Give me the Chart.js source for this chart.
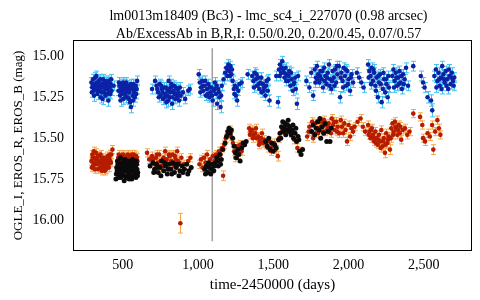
<!DOCTYPE html>
<html>
<head>
<meta charset="utf-8">
<script src="https://cdn.jsdelivr.net/npm/chart.js@4.4.1/dist/chart.umd.min.js"></script>
<style>
  html, body { margin: 0; padding: 0; background: #fff; }
  #wrap { width: 480px; height: 300px; }
</style>
</head>
<body>
<div id="wrap"><canvas id="myChart"></canvas></div>
<script>
// titles
var titleLines = ['lm0013m18409 (Bc3) - lmc_sc4_i_227070 (0.98 arcsec)',
                  'Ab/ExcessAb in B,R,I: 0.50/0.20, 0.20/0.45, 0.07/0.57'];
var xTitle = 'time-2450000 (days)';
var yTitle = 'OGLE_I, EROS_R, EROS_B (mag)';

// tick labels
var xTicks = [500, 1000, 1500, 2000, 2500];
var yTicks = [15.00, 15.25, 15.50, 15.75, 16.00];

// vertical marker (day, from mag, to mag)
var markerDay = 1095;
var markerMags = [14.95, 16.13];

// EROS_B : [day, mag, err]
var erosB = [
  [292,15.16,.03],[298,15.19,.03],[303,15.14,.03],[308,15.21,.03],[312,15.17,.025],[318,15.13,.03],[322,15.20,.03],
  [327,15.16,.03],[333,15.23,.035],[338,15.18,.03],[343,15.15,.03],[349,15.21,.03],[354,15.25,.035],[358,15.17,.03],
  [364,15.19,.03],[369,15.14,.03],[375,15.22,.03],[380,15.18,.03],[386,15.24,.035],[391,15.16,.03],[397,15.20,.03],
  [402,15.15,.03],[408,15.22,.03],[414,15.19,.03],[420,15.17,.03],[426,15.21,.03],[440,15.18,.03],
  [295,15.22,.03],[301,15.18,.03],[310,15.24,.035],[316,15.19,.03],[325,15.12,.03],[331,15.17,.03],[336,15.21,.03],
  [346,15.19,.03],[352,15.14,.03],[361,15.22,.03],[367,15.26,.035],[372,15.17,.03],[378,15.15,.03],[384,15.20,.03],
  [394,15.23,.03],[400,15.18,.03],[405,15.27,.035],[411,15.16,.03],[417,15.23,.03],[423,15.14,.03],
  [472,15.21,.03],[478,15.18,.03],[483,15.24,.03],[489,15.20,.03],[494,15.17,.03],[500,15.22,.03],[505,15.26,.035],
  [511,15.19,.03],[516,15.23,.03],[522,15.16,.03],[527,15.21,.03],[533,15.25,.035],[538,15.18,.03],[544,15.22,.03],
  [549,15.28,.035],[555,15.31,.035],[560,15.20,.03],[566,15.24,.03],[571,15.17,.03],[577,15.22,.03],[583,15.19,.03],
  [590,15.23,.03],[596,15.15,.03],
  [475,15.16,.03],[481,15.21,.03],[486,15.27,.035],[492,15.23,.03],[497,15.19,.03],[503,15.16,.03],[508,15.21,.03],
  [514,15.17,.03],[519,15.25,.035],[525,15.20,.03],[530,15.18,.03],[536,15.22,.03],[541,15.26,.035],[547,15.20,.03],
  [552,15.17,.03],[563,15.19,.03],[568,15.27,.035],[574,15.21,.03],[580,15.25,.03],[586,15.18,.03],[593,15.20,.03],
  [695,15.20,.03],[715,15.15,.03],[725,15.18,.03],[735,15.22,.03],[745,15.17,.03],[752,15.24,.03],[760,15.20,.03],
  [768,15.26,.035],[775,15.19,.03],[783,15.23,.03],[790,15.28,.035],[798,15.21,.03],[805,15.15,.03],[812,15.25,.03],
  [820,15.19,.03],[828,15.29,.035],[835,15.22,.03],[842,15.18,.03],[850,15.26,.03],[858,15.23,.03],[866,15.20,.03],
  [875,15.27,.035],[885,15.24,.03],[900,15.22,.03],[915,15.26,.03],[935,15.21,.03],[945,15.20,.03],
  [730,15.20,.03],[740,15.25,.03],[756,15.18,.03],[764,15.22,.03],[779,15.25,.03],[787,15.19,.03],[795,15.24,.03],
  [802,15.27,.035],[809,15.20,.03],[816,15.22,.03],[824,15.17,.03],[831,15.25,.03],[839,15.21,.03],[846,15.23,.03],
  [854,15.19,.03],[862,15.25,.03],[870,15.22,.03],[880,15.19,.03],
  [1005,15.11,.03],[1012,15.16,.03],[1020,15.19,.03],[1028,15.15,.03],[1036,15.21,.03],[1044,15.18,.03],[1052,15.24,.03],
  [1060,15.20,.03],[1068,15.17,.03],[1075,15.25,.03],[1083,15.22,.03],[1090,15.19,.03],[1098,15.27,.035],[1105,15.21,.03],
  [1112,15.16,.03],[1120,15.23,.03],[1127,15.29,.035],[1135,15.20,.03],[1142,15.25,.03],[1150,15.31,.035],[1158,15.18,.03],
  [1016,15.22,.03],[1032,15.18,.03],[1048,15.15,.03],[1064,15.23,.03],[1079,15.19,.03],[1094,15.24,.03],[1109,15.20,.03],
  [1124,15.18,.03],[1139,15.22,.03],[1154,15.24,.03],
  [1170,15.14,.03],[1180,15.10,.03],[1188,15.07,.03],[1195,15.12,.03],[1202,15.05,.03],[1208,15.09,.03],[1215,15.06,.03],
  [1222,15.11,.03],[1230,15.15,.03],[1238,15.20,.03],[1245,15.18,.03],[1252,15.24,.03],[1260,15.27,.035],[1268,15.21,.03],
  [1276,15.17,.03],[1290,15.16,.03],[1198,15.08,.03],[1212,15.12,.03],[1226,15.08,.03],[1242,15.23,.03],[1256,15.19,.03],
  [1330,15.11,.03],[1360,15.12,.03],[1368,15.15,.03],[1376,15.10,.03],[1384,15.14,.03],[1392,15.18,.03],[1400,15.13,.03],
  [1408,15.20,.03],[1416,15.16,.03],[1424,15.22,.03],[1432,15.17,.03],[1440,15.19,.03],[1448,15.24,.03],[1456,15.15,.03],
  [1464,15.21,.03],[1475,15.27,.035],
  [1372,15.19,.03],[1388,15.11,.03],[1404,15.17,.03],[1420,15.13,.03],[1436,15.21,.03],[1452,15.18,.03],[1468,15.14,.03],
  [1520,15.12,.03],[1531,15.28,.035],[1538,15.08,.03],[1545,15.05,.03],[1552,15.10,.03],[1560,15.03,.03],[1568,15.08,.03],
  [1575,15.13,.03],[1582,15.07,.03],[1590,15.11,.03],[1598,15.15,.03],[1606,15.09,.03],[1614,15.18,.03],[1622,15.14,.03],
  [1630,15.21,.03],[1640,15.16,.03],[1650,15.20,.03],[1657,15.29,.035],[1665,15.12,.03],
  [1542,15.12,.03],[1556,15.07,.03],[1572,15.10,.03],[1586,15.15,.03],[1602,15.12,.03],[1618,15.10,.03],[1634,15.17,.03],
  [1646,15.13,.03],
  [1720,15.15,.03],[1740,15.19,.03],[1752,15.10,.03],[1765,15.24,.03],[1775,15.08,.03],[1783,15.13,.03],[1790,15.06,.03],
  [1798,15.11,.03],[1806,15.16,.03],[1814,15.09,.03],[1822,15.14,.03],[1830,15.19,.03],[1838,15.07,.03],[1846,15.12,.03],
  [1854,15.17,.03],[1862,15.10,.03],[1870,15.05,.03],[1878,15.14,.03],[1886,15.20,.03],[1894,15.09,.03],[1902,15.13,.03],
  [1910,15.08,.03],[1918,15.16,.03],[1926,15.11,.03],
  [1780,15.16,.03],[1794,15.14,.03],[1810,15.12,.03],[1826,15.09,.03],[1842,15.15,.03],[1858,15.13,.03],[1874,15.18,.03],
  [1890,15.15,.03],[1906,15.18,.03],[1922,15.06,.03],
  [1935,15.06,.03],[1944,15.25,.035],[1952,15.10,.03],[1960,15.15,.03],[1968,15.07,.03],[1976,15.12,.03],[1984,15.18,.03],
  [1992,15.09,.03],[2000,15.14,.03],[2010,15.21,.03],[2020,15.11,.03],[2030,15.16,.03],
  [1948,15.13,.03],[1964,15.19,.03],[1980,15.08,.03],[1996,15.17,.03],[2015,15.13,.03],
  [2055,15.10,.03],[2070,15.13,.03],[2085,15.16,.03],[2100,15.19,.03],
  [2130,15.05,.03],[2138,15.09,.03],[2146,15.12,.03],[2154,15.07,.03],[2162,15.15,.03],[2170,15.10,.03],[2178,15.18,.03],
  [2186,15.13,.03],[2195,15.25,.035],[2202,15.16,.03],[2210,15.11,.03],[2220,15.28,.035],[2228,15.20,.03],[2236,15.14,.03],
  [2244,15.22,.03],[2252,15.17,.03],[2260,15.25,.035],[2268,15.19,.03],
  [2134,15.13,.03],[2150,15.17,.03],[2166,15.08,.03],[2182,15.21,.03],[2198,15.12,.03],[2214,15.17,.03],[2232,15.10,.03],
  [2248,15.14,.03],[2264,15.12,.03],
  [2290,15.12,.03],[2298,15.08,.03],[2306,15.15,.03],[2314,15.10,.03],[2322,15.18,.03],[2330,15.13,.03],[2338,15.09,.03],
  [2346,15.16,.03],[2354,15.20,.03],[2362,15.11,.03],[2372,15.14,.03],[2382,15.07,.03],[2395,15.18,.03],
  [2302,15.19,.03],[2318,15.13,.03],[2334,15.17,.03],[2350,15.12,.03],[2366,15.17,.03],
  [2430,15.06,.03],[2480,15.12,.03],[2495,15.16,.03],[2505,15.19,.03],[2525,15.25,.035],[2548,15.27,.035],[2556,15.33,.04],
  [2570,15.12,.03],[2580,15.08,.03],[2590,15.15,.03],[2598,15.10,.03],[2606,15.18,.03],[2614,15.13,.03],[2622,15.06,.03],
  [2630,15.11,.03],[2638,15.16,.03],[2646,15.09,.03],[2654,15.14,.03],[2662,15.20,.03],[2670,15.12,.03],[2678,15.17,.03],
  [2686,15.10,.03],[2694,15.15,.03],[2702,15.13,.03],
  [2584,15.19,.03],[2602,15.14,.03],[2618,15.20,.03],[2634,15.14,.03],[2650,15.18,.03],[2666,15.08,.03],[2682,15.13,.03],
  [2698,15.18,.03]
];

// EROS_R : [day, mag, err]
var erosR = [
  [292,15.64,.025],[298,15.60,.025],[303,15.67,.025],[308,15.58,.025],[313,15.62,.025],[318,15.66,.025],[323,15.59,.025],
  [328,15.63,.025],[334,15.69,.025],[339,15.65,.025],[344,15.61,.025],[350,15.68,.025],[355,15.64,.025],[360,15.70,.025],
  [366,15.66,.025],[371,15.62,.025],[377,15.67,.025],[382,15.63,.025],[388,15.69,.025],[393,15.65,.025],[399,15.61,.025],
  [405,15.66,.025],[411,15.62,.025],[418,15.64,.025],[425,15.60,.025],[432,15.57,.025],
  [295,15.68,.025],[301,15.62,.025],[306,15.65,.025],[316,15.69,.025],[321,15.63,.025],[331,15.66,.025],[336,15.61,.025],
  [347,15.64,.025],[353,15.60,.025],[358,15.66,.025],[363,15.63,.025],[369,15.68,.025],[374,15.64,.025],[380,15.70,.025],
  [385,15.66,.025],[396,15.68,.025],[402,15.64,.025],[408,15.68,.025],[414,15.60,.025],[422,15.65,.025],
  [470,15.62,.025],[478,15.65,.025],[486,15.61,.025],[494,15.64,.025],[502,15.60,.025],[510,15.63,.025],[518,15.66,.025],
  [526,15.62,.025],[534,15.60,.025],[542,15.64,.025],[550,15.61,.025],[558,15.65,.025],[566,15.62,.025],[574,15.60,.025],
  [582,15.63,.025],[590,15.61,.025],[598,15.64,.025],
  [474,15.60,.025],[482,15.63,.025],[498,15.62,.025],[514,15.61,.025],[530,15.64,.025],[546,15.62,.025],[562,15.60,.025],
  [578,15.65,.025],[594,15.62,.025],
  [662,15.59,.025],[676,15.63,.025],[695,15.61,.025],[710,15.66,.025],[722,15.62,.025],[732,15.65,.025],[742,15.60,.025],
  [752,15.64,.025],[762,15.67,.025],[772,15.62,.025],[782,15.58,.025],[792,15.63,.025],[802,15.66,.025],[812,15.61,.025],
  [822,15.64,.025],[832,15.60,.025],[842,15.67,.025],[852,15.63,.025],[862,15.58,.025],[875,15.65,.025],[883,16.02,.06],
  [890,15.62,.025],[905,15.66,.025],[935,15.64,.025],[950,15.62,.025],
  [702,15.63,.025],[727,15.60,.025],[747,15.67,.025],[767,15.63,.025],[787,15.65,.025],[807,15.60,.025],[827,15.66,.025],
  [847,15.61,.025],[867,15.64,.025],
  [1010,15.66,.025],[1020,15.63,.025],[1030,15.68,.025],[1040,15.62,.025],[1050,15.65,.025],[1060,15.60,.025],[1070,15.67,.025],
  [1080,15.63,.025],[1090,15.69,.025],[1100,15.61,.025],
  [1110,15.64,.025],[1120,15.60,.025],[1130,15.62,.025],[1140,15.58,.025],[1150,15.60,.025],[1160,15.56,.025],[1167,15.73,.03],
  [1175,15.54,.025],[1185,15.50,.025],[1195,15.48,.025],[1205,15.46,.025],[1213,15.45,.025],[1220,15.49,.025],
  [1232,15.53,.025],[1240,15.58,.025],[1248,15.62,.025],[1256,15.55,.025],[1264,15.60,.025],[1272,15.57,.025],[1280,15.54,.025],
  [1290,15.58,.025],
  [1340,15.44,.025],[1350,15.46,.025],[1360,15.45,.025],[1370,15.48,.025],[1380,15.47,.025],[1390,15.50,.025],[1400,15.49,.025],
  [1410,15.52,.025],[1420,15.50,.025],[1430,15.53,.025],[1440,15.51,.025],
  [1345,15.48,.025],[1365,15.50,.025],[1385,15.44,.025],[1405,15.54,.025],[1425,15.47,.025],
  [1455,15.54,.025],[1465,15.56,.025],[1475,15.52,.025],[1485,15.58,.025],[1495,15.55,.025],[1505,15.53,.025],[1515,15.57,.025],
  [1530,15.61,.03],[1540,15.50,.025],
  [1560,15.45,.025],[1580,15.42,.025],[1600,15.44,.025],[1620,15.47,.025],[1640,15.51,.025],[1660,15.56,.025],[1680,15.58,.025],
  [1725,15.49,.025],[1740,15.43,.025],[1752,15.46,.025],[1765,15.50,.025],[1778,15.41,.025],[1788,15.44,.025],[1798,15.47,.025],
  [1808,15.40,.025],[1818,15.43,.025],[1828,15.46,.025],[1838,15.39,.025],[1848,15.42,.025],[1858,15.45,.025],[1868,15.41,.025],
  [1878,15.44,.025],[1888,15.38,.025],[1898,15.42,.025],[1908,15.45,.025],[1918,15.40,.025],[1928,15.43,.025],[1938,15.47,.025],
  [1735,15.46,.025],[1758,15.40,.025],[1783,15.47,.025],[1803,15.44,.025],[1823,15.40,.025],[1843,15.46,.025],[1863,15.43,.025],
  [1883,15.47,.025],[1903,15.40,.025],[1923,15.46,.025],
  [1948,15.39,.025],[1956,15.43,.025],[1964,15.47,.025],[1972,15.41,.025],[1980,15.45,.025],[1990,15.52,.025],[2000,15.42,.025],
  [2010,15.49,.025],[2020,15.44,.025],[2030,15.46,.025],[2040,15.43,.025],
  [2060,15.40,.025],[2080,15.38,.025],[2095,15.43,.025],[2110,15.46,.025],
  [2130,15.42,.025],[2138,15.46,.025],[2146,15.50,.025],[2154,15.44,.025],[2162,15.48,.025],[2170,15.52,.025],[2178,15.46,.025],
  [2186,15.50,.025],[2194,15.54,.025],[2202,15.48,.025],[2210,15.52,.025],[2218,15.45,.025],[2226,15.55,.025],[2234,15.50,.025],
  [2242,15.59,.03],[2250,15.47,.025],[2258,15.53,.025],[2266,15.49,.025],[2275,15.57,.03],[2284,15.44,.025],[2292,15.41,.025],
  [2300,15.46,.025],[2308,15.40,.025],[2316,15.44,.025],[2324,15.48,.025],[2332,15.42,.025],[2340,15.47,.025],[2350,15.51,.025],
  [2360,15.45,.025],[2375,15.44,.025],[2390,15.48,.025],[2405,15.46,.025],
  [2134,15.48,.025],[2150,15.45,.025],[2166,15.50,.025],[2182,15.53,.025],[2198,15.51,.025],[2214,15.56,.025],[2230,15.52,.025],
  [2246,15.54,.025],[2262,15.51,.025],[2280,15.50,.025],[2296,15.48,.025],[2312,15.43,.025],[2328,15.45,.025],[2344,15.43,.025],
  [2430,15.35,.025],[2475,15.37,.025],[2490,15.42,.025],[2495,15.50,.025],[2508,15.52,.025],[2525,15.47,.025],[2540,15.49,.025],
  [2555,15.42,.025],[2563,15.57,.03],[2575,15.46,.025],[2590,15.39,.025],[2600,15.44,.025],[2610,15.48,.025]
];

// OGLE_I : [day, mag]
var ogleI = [
  [455,15.75],[460,15.68],[465,15.64],[470,15.71],[475,15.66],[480,15.73],[485,15.62],[490,15.69],[495,15.65],[500,15.72],
  [505,15.67],[510,15.76],[515,15.63],[520,15.70],[525,15.66],[530,15.73],[535,15.64],[540,15.69],[545,15.71],[550,15.65],
  [555,15.68],[560,15.75],[565,15.63],[570,15.70],[575,15.66],[580,15.72],[585,15.67],[590,15.64],[595,15.69],[600,15.71],
  [458,15.72],[463,15.70],[468,15.66],[473,15.74],[478,15.69],[483,15.67],[488,15.74],[493,15.71],[498,15.68],[503,15.64],
  [508,15.70],[513,15.73],[518,15.67],[523,15.74],[528,15.69],[533,15.66],[538,15.72],[543,15.75],[548,15.68],[553,15.73],
  [558,15.66],[563,15.70],[568,15.73],[573,15.68],[578,15.65],[583,15.70],[588,15.74],[593,15.66],[598,15.73],
  [682,15.67],[700,15.65],[712,15.69],[724,15.66],[736,15.71],[748,15.68],[760,15.64],[772,15.70],[784,15.67],[796,15.72],
  [808,15.66],[820,15.69],[832,15.65],[844,15.71],[856,15.68],[868,15.66],[880,15.70],[895,15.67],[910,15.69],[925,15.66],
  [940,15.70],[955,15.68],
  [706,15.71],[730,15.68],[754,15.73],[778,15.65],[802,15.69],[826,15.72],[850,15.66],[874,15.73],[900,15.71],[932,15.72],
  [1045,15.69],[1055,15.67],[1065,15.71],[1075,15.68],[1085,15.72],[1095,15.66],[1105,15.70],[1115,15.65],[1125,15.62],
  [1135,15.67],[1145,15.60],[1155,15.63],[1165,15.57],
  [1050,15.72],[1070,15.65],[1090,15.69],[1110,15.67],[1130,15.64],[1150,15.66],
  [1180,15.53],[1190,15.49],[1198,15.46],[1206,15.44],[1214,15.47],[1222,15.45],[1230,15.50],
  [1240,15.55],[1248,15.59],[1256,15.62],[1264,15.57],[1272,15.60],[1280,15.64],[1290,15.56],[1300,15.53],[1310,15.54],[1320,15.52],
  [1450,15.52],[1460,15.55],[1470,15.50],[1480,15.57],[1490,15.53],[1500,15.58],[1510,15.54],[1520,15.56],[1535,15.51],
  [1545,15.47],[1555,15.43],[1563,15.40],[1571,15.44],[1579,15.41],[1587,15.45],[1595,15.42],[1603,15.46],[1611,15.43],
  [1619,15.48],[1627,15.45],[1635,15.50],[1645,15.47],[1655,15.52],[1665,15.49],[1675,15.58],[1685,15.60],[1695,15.57],
  [1550,15.50],[1567,15.46],[1583,15.48],[1599,15.39],[1615,15.45],[1631,15.42],[1650,15.44],[1670,15.51],
  [1755,15.46],[1765,15.42],[1775,15.48],[1785,15.44],[1795,15.40],[1805,15.45],[1810,15.38],[1815,15.50],[1825,15.43],
  [1835,15.47],[1845,15.41],[1855,15.52],[1865,15.46],[1877,15.52],[1885,15.44]
];

function toPts(arr) {
  return arr.map(function (p) { return { x: p[0], y: p[1], err: p[2] || 0 }; });
}

var serif = 'Liberation Serif';

// error bars drawn under each dataset's points
var errorBars = {
  id: 'errorBars',
  beforeDatasetDraw: function (chart, args) {
    var ds = chart.data.datasets[args.index];
    if (!ds.errColor) return;
    var ctx = chart.ctx, xs = chart.scales.x, ys = chart.scales.y;
    ctx.save();
    ctx.strokeStyle = ds.errColor;
    ctx.lineWidth = 1;
    ds.data.forEach(function (p) {
      if (!p.err) return;
      var px = Math.round(xs.getPixelForValue(p.x)) + 0.5;
      var y1 = ys.getPixelForValue(p.y - p.err);
      var y2 = ys.getPixelForValue(p.y + p.err);
      ctx.beginPath();
      ctx.moveTo(px, y1); ctx.lineTo(px, y2);
      ctx.moveTo(px - 2.5, y1); ctx.lineTo(px + 2.5, y1);
      ctx.moveTo(px - 2.5, y2); ctx.lineTo(px + 2.5, y2);
      ctx.stroke();
    });
    ctx.restore();
  }
};

// black frame round the plot and the two title lines centred over it
var frame = {
  id: 'frame',
  afterDraw: function (chart) {
    var a = chart.chartArea, ctx = chart.ctx;
    ctx.save();
    ctx.strokeStyle = '#000';
    ctx.lineWidth = 1;
    ctx.strokeRect(Math.round(a.left) + 0.5, Math.round(a.top) + 0.5,
                   Math.round(a.right - a.left) - 1, Math.round(a.bottom - a.top) - 1);
    ctx.fillStyle = '#000';
    ctx.font = '14px "' + serif + '"';
    ctx.textAlign = 'center';
    ctx.textBaseline = 'middle';
    var cx = (a.left + a.right) / 2 - 4;
    titleLines.forEach(function (t, i) { ctx.fillText(t, cx, 16 + i * 18); });
    ctx.restore();
  }
};

new Chart('myChart', {
  type: 'scatter',
  data: {
    datasets: [
      {
        label: 'marker', type: 'line', order: 4,
        data: [{ x: markerDay, y: markerMags[0] }, { x: markerDay, y: markerMags[1] }],
        borderColor: '#a0a0a0', borderWidth: 1.5, pointRadius: 0, showLine: true
      },
      {
        label: 'EROS_B', order: 3, data: toPts(erosB), errColor: '#43c2f0',
        backgroundColor: '#0c22a6', pointRadius: 2.3, borderWidth: 0
      },
      {
        label: 'EROS_R', order: 2, data: toPts(erosR), errColor: '#f6a847',
        backgroundColor: '#b51c02', pointRadius: 2.3, borderWidth: 0
      },
      {
        label: 'OGLE_I', order: 1, data: toPts(ogleI),
        backgroundColor: '#0b0b0b', pointRadius: 2.5, borderWidth: 0
      }
    ]
  },
  options: {
    responsive: true,
    maintainAspectRatio: false,
    animation: false,
    layout: { padding: { left: 0, right: 8, top: 40, bottom: 0 } },
    plugins: {
      legend: { display: false },
      tooltip: { enabled: false },
      title: { display: false }
    },
    scales: {
      x: {
        type: 'linear', min: 170, max: 2820,
        grid: { display: false, drawTicks: false },
        border: { display: false },
        afterBuildTicks: function (s) { s.ticks = xTicks.map(function (v) { return { value: v }; }); },
        afterFit: function (s) { s.height = 49; },
        ticks: {
          color: '#000', padding: 6,
          font: { family: serif, size: 14 },
          callback: function (v) { return v.toLocaleString('en-US'); }
        },
        title: {
          display: true, text: xTitle, color: '#000',
          font: { family: serif, size: 15 },
          padding: { top: 0, bottom: 6 }
        }
      },
      y: {
        type: 'linear', reverse: true, min: 14.9, max: 16.19,
        grid: { display: false, drawTicks: false },
        border: { display: false },
        afterBuildTicks: function (s) { s.ticks = yTicks.map(function (v) { return { value: v }; }); },
        afterFit: function (s) { s.width = 73; },
        ticks: {
          color: '#000', padding: 9,
          font: { family: serif, size: 14 },
          callback: function (v) { return v.toFixed(2); }
        },
        title: {
          display: true, text: yTitle, color: '#000',
          font: { family: serif, size: 13 },
          padding: { top: 11, bottom: 0 }
        }
      }
    }
  },
  plugins: [errorBars, frame]
});
</script>
</body>
</html>
